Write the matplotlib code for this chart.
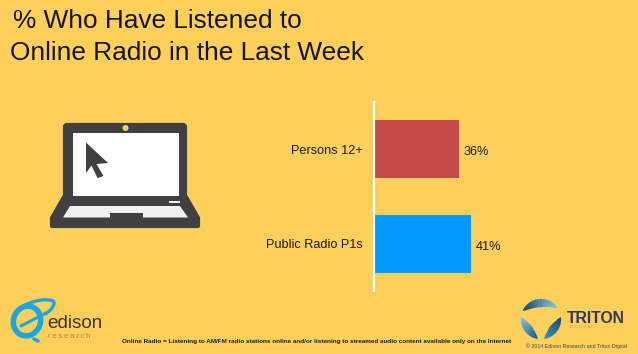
import numpy as np
import matplotlib
matplotlib.use('Agg')
import matplotlib.pyplot as plt
from matplotlib.patches import Polygon, Rectangle, Circle, Ellipse, FancyBboxPatch, PathPatch
from matplotlib.path import Path
from matplotlib.colors import to_rgb

categories = ['Persons 12+', 'Public Radio P1s']
values = [36, 41]
value_labels = ['36%', '41%']
bar_colors = ['#C44A48', '#0099FF']

title_lines = ['% Who Have Listened to', 'Online Radio in the Last Week']
footnote = 'Online Radio = Listening to AM/FM radio stations online and/or listening to streamed audio content available only on the Internet'
copyright_text = '\u00a9 2014 Edison Research and Triton Digital'

BG = '#FFCF5B'
DARK = '#404043'
W, H = 638, 354

plt.rcParams['font.family'] = ['Liberation Sans', 'DejaVu Sans']

fig = plt.figure(figsize=(6.38, 3.54), dpi=100, facecolor=BG)

# overlay in pixel coords for the title, laptop and logos
bg = fig.add_axes([0, 0, 1, 1])
bg.set_xlim(0, W)
bg.set_ylim(H, 0)
bg.axis('off')

bg.text(13, 27.5, title_lines[0], fontsize=18.9, color='#151515', va='baseline')
bg.text(10, 60.5, title_lines[1], fontsize=18.9, color='#151515', va='baseline')

# laptop
bg.add_patch(FancyBboxPatch((65, 125), 120, 72, boxstyle='round,pad=0,rounding_size=2',
                            fc=DARK, ec=DARK, lw=3))
bg.add_patch(Rectangle((72.5, 132.5), 106, 63.5, fc='white', ec='none', zorder=3))
bg.add_patch(Circle((125.5, 128), 3, fc=BG, ec='none', zorder=3))
bg.add_patch(Polygon([(64, 197), (186, 197), (198, 218), (198, 226), (52, 226), (52, 218)],
                     closed=True, fc=DARK, ec=DARK, lw=3, joinstyle='round', zorder=2))
bg.add_patch(Polygon([(70, 206), (180, 206), (188, 217.5), (63, 217.5)],
                     closed=True, fc='#F1F1F1', ec='none', zorder=3))
bg.add_patch(Rectangle((109.5, 213), 33, 5, fc=DARK, ec='none', zorder=4))
bg.add_patch(Rectangle((168.5, 200.5), 11, 2.8, fc='#F1F1F1', ec='none', zorder=4))
bg.add_patch(Polygon([(86, 142.5), (108, 163), (96.5, 164), (103.5, 176), (97.5, 178),
                      (91.5, 165.5), (86, 173)], closed=True, fc=DARK, ec='none', zorder=5))

# edison logo
BLUE = '#1CA5DE'
bg.add_patch(Ellipse((27, 321), 27, 30, angle=20, fc='none', ec=BLUE, lw=4))
swoosh = Path([(23, 306), (38, 298), (56, 298), (54, 304), (53, 308), (49, 312), (45, 314)],
              [Path.MOVETO, Path.CURVE4, Path.CURVE4, Path.CURVE4, Path.CURVE4, Path.CURVE4, Path.CURVE4])
bg.add_patch(PathPatch(swoosh, fc='none', ec=BLUE, lw=2.4, capstyle='round'))
bg.plot([21, 46], [326, 313], color=BLUE, lw=2.2, solid_capstyle='round')
bg.plot([34, 38], [339, 341], color=BLUE, lw=2.5, solid_capstyle='round')
bg.text(47, 328, 'edison', fontsize=13.6, color='#3b3328', va='baseline')
bg.text(48, 338.5, '\u2009'.join('research'), fontsize=5.8, color='#9a8750', va='baseline')

# footnote and copyright
bg.text(122, 341.5, footnote, fontsize=4.63, fontweight='bold', color='#1c1c1c', va='center')
bg.text(526, 346.5, copyright_text, fontsize=3.75, color='#444444', va='center')


def blade(a1, a2, c1, c2, cx=541, cy=319, r=20, thick=8, n=24):
    # tapered arc of the triton ring, angles in degrees counted clockwise on screen
    t = np.linspace(0, 1, n + 1)
    ang = np.radians(a1 + (a2 - a1) * t)
    wid = thick * np.sin(np.pi * t) ** 0.6
    c1, c2 = np.array(to_rgb(c1)), np.array(to_rgb(c2))
    for i in range(n):
        pts = [(cx + r * np.cos(ang[i]), cy + r * np.sin(ang[i])),
               (cx + r * np.cos(ang[i + 1]), cy + r * np.sin(ang[i + 1])),
               (cx + (r - wid[i + 1]) * np.cos(ang[i + 1]), cy + (r - wid[i + 1]) * np.sin(ang[i + 1])),
               (cx + (r - wid[i]) * np.cos(ang[i]), cy + (r - wid[i]) * np.sin(ang[i]))]
        col = c1 + (c2 - c1) * t[i]
        bg.add_patch(Polygon(pts, closed=True, fc=col, ec=col, lw=0.2))


blade(-155, -35, '#14406E', '#7CCBEE')
blade(-260, -175, '#0E4F86', '#7CCBEE')
blade(-5, 80, '#14406E', '#1F8FC8')
bg.text(567, 323, 'TRITON', fontsize=11.3, fontweight='bold', color='#2E3A5C', va='baseline')
bg.text(570, 328.5, 'D I G I T A L', fontsize=3.2, color='#C9A550', va='baseline')

# bars, top is 102 px and bottom 291 px, x scale 2.36 px per point
ax = fig.add_axes([374 / W, 1 - 291 / H, 118 / W, 189 / H])
ax.patch.set_alpha(0)
y = np.arange(len(categories))
ax.barh(y, values, height=0.61, color=bar_colors)
ax.set_xlim(0, 50)
ax.set_ylim(1.5, -0.5)
ax.set_xticks([])
ax.set_yticks(y)
ax.set_yticklabels(categories, fontsize=9.2, color='#1c1c1c')
ax.tick_params(axis='y', length=0, pad=8)
for s in ['top', 'right', 'bottom']:
    ax.spines[s].set_visible(False)
ax.spines['left'].set_color('white')
ax.spines['left'].set_linewidth(1.6)
for i, v in enumerate(values):
    ax.text(v + 2, i + 0.03, value_labels[i], fontsize=9.2, color='#1c1c1c', va='center')

fig.savefig('out.png', dpi=100, facecolor=BG)
